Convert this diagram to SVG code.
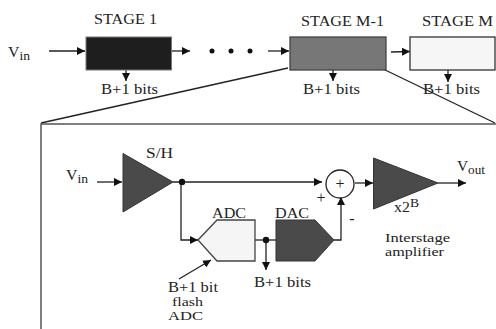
<svg xmlns="http://www.w3.org/2000/svg" width="496" height="329" viewBox="0 0 496 329">
<style>
text{font-family:"Liberation Serif","Times New Roman",serif;font-size:14px;fill:#222}
.sub{font-size:12px}
.tight{font-size:12.500px}
.ln{fill:none;stroke:#222;stroke-width:1.300}
.gr{stroke:#555;stroke-width:1.500}
.dk{fill:#4a4a4a;stroke:#333;stroke-width:1}
</style>
<defs>
<marker id="a" viewBox="0 0 8 8" refX="8" refY="4" markerWidth="8" markerHeight="8" markerUnits="userSpaceOnUse" orient="auto"><path d="M0 0L8 4L0 8Z" fill="#111"/></marker>
</defs>
<rect width="496" height="329" fill="#fff"/>
<g id="connectors">
<path class="ln" d="M49 51H85" marker-end="url(#a)"/>
<path class="ln" d="M171 51H190" marker-end="url(#a)"/>
<path class="ln" d="M268 51H289" marker-end="url(#a)"/>
<path class="ln" d="M391 52L410 51.500" marker-end="url(#a)"/>
<path class="ln" d="M126 70V81" marker-end="url(#a)"/>
<path class="ln" d="M333 70V81" marker-end="url(#a)"/>
<path class="ln" d="M448 70V82" marker-end="url(#a)"/>
<path class="ln" d="M41 123L288 68"/>
<path class="ln" d="M381 68L495 123"/>
<path class="ln" d="M97 182H122" marker-end="url(#a)"/>
<path class="ln" d="M173 182H322" marker-end="url(#a)"/>
<path class="ln" d="M181 182V240H198" marker-end="url(#a)"/>
<path class="ln" d="M255 240H276"/>
<path class="ln" d="M266 240V270" marker-end="url(#a)"/>
<path class="ln" d="M334 240H341V197" marker-end="url(#a)"/>
<path class="ln" d="M355 183H373" marker-end="url(#a)"/>
<path class="ln" d="M438 183H466" marker-end="url(#a)"/>
<path class="ln" d="M179 279L211 260" marker-end="url(#a)"/>
<circle cx="182" cy="182" r="3.200" fill="#111"/>
<circle cx="266" cy="240" r="3.200" fill="#111"/>
<circle cx="212" cy="51" r="2.500" fill="#111"/>
<circle cx="231" cy="51" r="2.500" fill="#111"/>
<circle cx="250" cy="51" r="2.500" fill="#111"/>
</g>
<g id="vin-top"><text x="8" y="57" textLength="22" lengthAdjust="spacingAndGlyphs">V<tspan class="sub" dy="3">in</tspan></text></g>
<g id="stage-1"><rect x="86" y="37" width="85.500" height="33" fill="#1e1e1e" stroke="#777"/><text x="94" y="24" textLength="63" lengthAdjust="spacingAndGlyphs">STAGE 1</text><text x="101" y="93.500" textLength="57" lengthAdjust="spacingAndGlyphs">B+1 bits</text></g>
<g id="stage-m-1"><rect x="290" y="37" width="96" height="33" fill="#777" stroke="#444" stroke-width="1.300"/><text x="301" y="26" textLength="83" lengthAdjust="spacingAndGlyphs">STAGE M-1</text><text x="303" y="93.500" textLength="57" lengthAdjust="spacingAndGlyphs">B+1 bits</text></g>
<g id="stage-m"><rect x="410" y="37" width="85" height="33" fill="#f6f6f6" stroke="#333" stroke-width="1.300"/><text x="422" y="26" textLength="71" lengthAdjust="spacingAndGlyphs">STAGE M</text><text x="423" y="94" textLength="57" lengthAdjust="spacingAndGlyphs">B+1 bits</text></g>
<g id="frame"><path d="M41 329V124H496" fill="none" class="gr"/></g>
<g id="vin-inner"><text x="66" y="180" textLength="22" lengthAdjust="spacingAndGlyphs">V<tspan class="sub" dy="3">in</tspan></text></g>
<g id="sh"><path class="dk" d="M123 153.500V212L173 182Z"/><text x="146" y="158" textLength="27" lengthAdjust="spacingAndGlyphs">S/H</text></g>
<g id="adc"><path d="M198 240L217 220H255V261H217Z" fill="#f5f5f5" stroke="#444" stroke-width="1.300"/><text x="212" y="218" textLength="34" lengthAdjust="spacingAndGlyphs">ADC</text></g>
<g id="dac"><path class="dk" d="M276 220H315L334 240L315 261H276Z"/><text x="275" y="218" textLength="34" lengthAdjust="spacingAndGlyphs">DAC</text></g>
<g id="sum"><circle cx="340" cy="184" r="14" fill="#fff" stroke="#222" stroke-width="1.300"/><text x="340" y="189" text-anchor="middle" style="font-size:16px">+</text><text x="321" y="203" text-anchor="middle" style="font-size:16px">+</text><text x="352" y="224" text-anchor="middle" style="font-size:16px">-</text></g>
<g id="amp"><path class="dk" d="M373.500 158V209L438 183Z"/><text x="394" y="212" textLength="25" lengthAdjust="spacingAndGlyphs">x2<tspan class="sub" dy="-5">B</tspan></text></g>
<g id="vout"><text x="457" y="171" textLength="28" lengthAdjust="spacingAndGlyphs">V<tspan class="sub" dy="3">out</tspan></text></g>
<g id="labels">
<text class="tight" x="385" y="242" textLength="65" lengthAdjust="spacingAndGlyphs">Interstage</text><text class="tight" x="385" y="256" textLength="59" lengthAdjust="spacingAndGlyphs">amplifier</text>
<text x="254" y="287" textLength="57" lengthAdjust="spacingAndGlyphs">B+1 bits</text>
<text x="168" y="292" textLength="50" lengthAdjust="spacingAndGlyphs">B+1 bit</text><text class="tight" x="172" y="306" textLength="31" lengthAdjust="spacingAndGlyphs">flash</text><text class="tight" x="168" y="320" textLength="35" lengthAdjust="spacingAndGlyphs">ADC</text>
</g>
</svg>
